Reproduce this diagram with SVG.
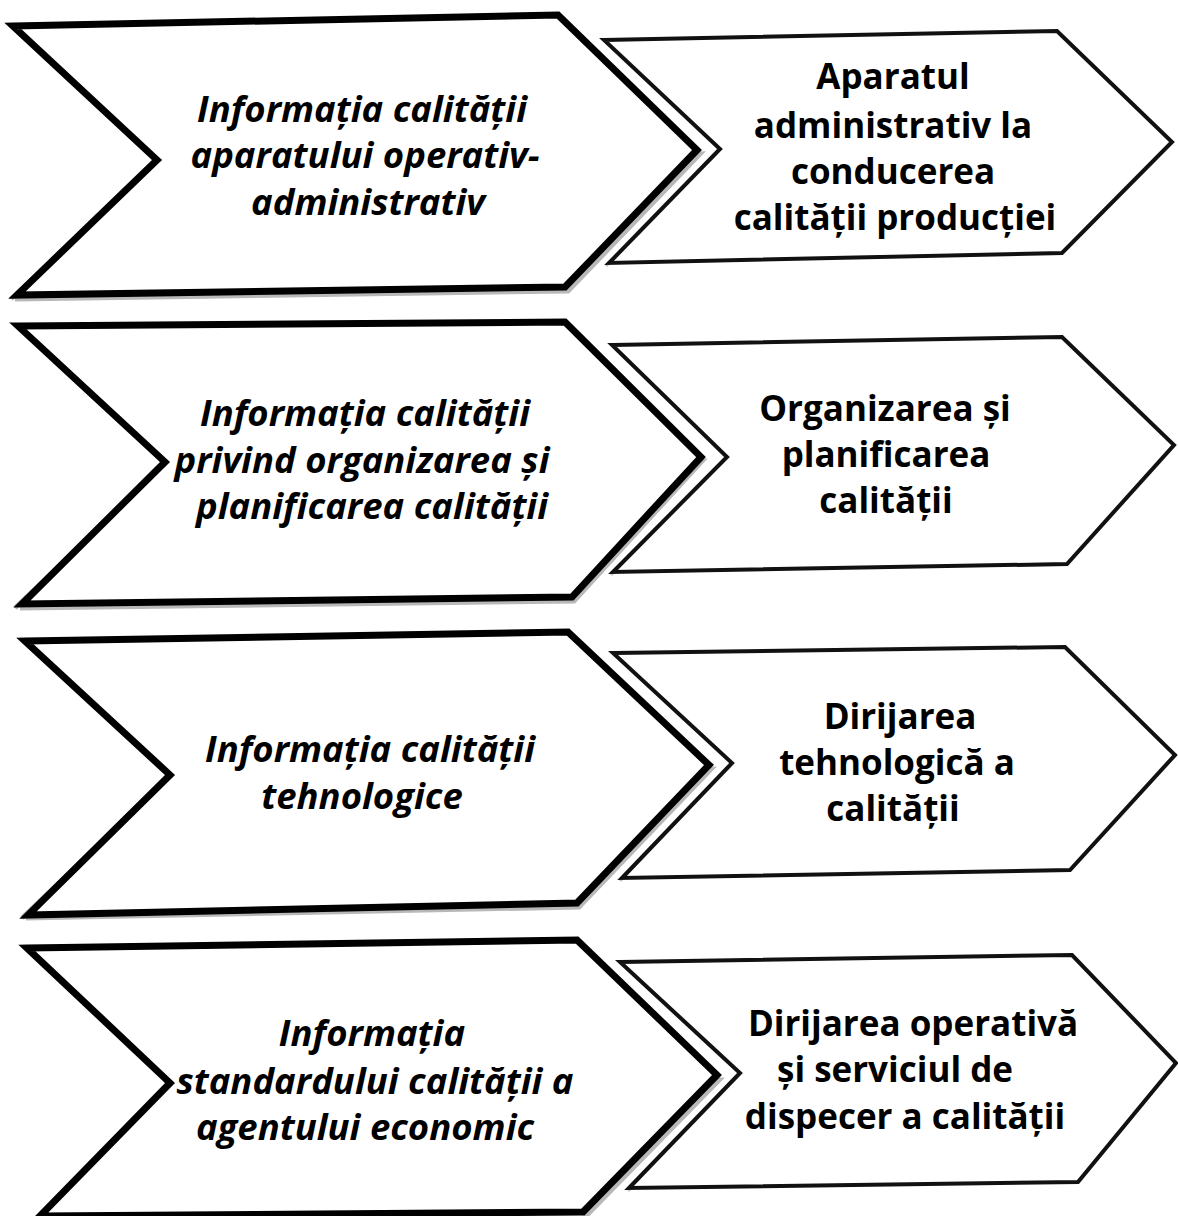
<svg xmlns="http://www.w3.org/2000/svg" width="1178" height="1216" viewBox="0 0 1178 1216">
<defs>
<style>
.lc{fill:#fff;stroke:#000;stroke-width:7;stroke-linejoin:miter}
.ls{fill:none;stroke:#b8b8b8;stroke-width:5}
.rc{fill:#fff;stroke:#111;stroke-width:4;stroke-linejoin:miter}
.rs{fill:none;stroke:#c8c8c8;stroke-width:3}
.lt{font-family:"Open Sans","Noto Sans",sans-serif;font-weight:bold;font-style:italic;font-size:36.5px;fill:#000;text-anchor:middle}
.rt{font-family:"Open Sans","Noto Sans",sans-serif;font-weight:bold;font-size:35px;fill:#000;text-anchor:middle}
</style>
</defs>
<rect width="1178" height="1216" fill="#fff"/>
<g id="connectors"></g>

<g id="row1-left">
<polyline class="ls" points="11,299 155,166 700,154 568,291 15,299"/>
<polygon class="lc" points="13,26 558,15 697,150 565,287 17,295 157,160"/>
<text class="lt" x="362" y="122">Informația calității</text>
<text class="lt" x="365" y="168">aparatului operativ-</text>
<text class="lt" x="368" y="215">administrativ</text>
</g>
<g id="row1-right">
<polyline class="rs" points="606,266 719,154"/>
<polygon class="rc" points="604,40 1057,31 1172,142 1062,253 609,263 720,149"/>
<text class="rt" x="893" y="89">Aparatul</text>
<text class="rt" x="893" y="138">administrativ la</text>
<text class="rt" x="893" y="184">conducerea</text>
<text class="rt" x="895" y="230">calității producției</text>
</g>

<g id="row2-left">
<polyline class="ls" points="15,608 163,468 702,461 574,601 20,608"/>
<polygon class="lc" points="18,326 565,322 701,457 572,597 22,604 165,462"/>
<text class="lt" x="365" y="426">Informația calității</text>
<text class="lt" x="362" y="473">privind organizarea și</text>
<text class="lt" x="372" y="519">planificarea calității</text>
</g>
<g id="row2-right">
<polyline class="rs" points="611,575 726,461"/>
<polygon class="rc" points="612,345 1062,337 1174,445 1067,564 613,572 727,457"/>
<text class="rt" x="885" y="421">Organizarea și</text>
<text class="rt" x="886" y="467">planificarea</text>
<text class="rt" x="886" y="513">calității</text>
</g>

<g id="row3-left">
<polyline class="ls" points="22,918 168,780 711,769 579,907 26,918"/>
<polygon class="lc" points="25,641 568,632 709,765 577,903 28,915 170,775"/>
<text class="lt" x="370" y="762">Informația calității</text>
<text class="lt" x="362" y="809">tehnologice</text>
</g>
<g id="row3-right">
<polyline class="rs" points="620,881 731,767"/>
<polygon class="rc" points="613,653 1065,647 1175,755 1070,870 622,878 732,763"/>
<text class="rt" x="900" y="729">Dirijarea</text>
<text class="rt" x="897" y="775">tehnologică a</text>
<text class="rt" x="893" y="821">calității</text>
</g>

<g id="row4-left">
<polyline class="ls" points="37,1218 168,1088 719,1080 585,1217"/>
<polygon class="lc" points="27,948 577,940 717,1075 583,1212 40,1216 170,1083"/>
<text class="lt" x="372" y="1046">Informația</text>
<text class="lt" x="375" y="1094">standardului calității a</text>
<text class="lt" x="365" y="1140">agentului economic</text>
</g>
<g id="row4-right">
<polyline class="rs" points="628,1191 738,1077"/>
<polygon class="rc" points="620,962 1072,955 1176,1063 1078,1182 629,1188 740,1073"/>
<text class="rt" x="913" y="1036">Dirijarea operativă</text>
<text class="rt" x="895" y="1082">și serviciul de</text>
<text class="rt" x="905" y="1129">dispecer a calității</text>
</g>
</svg>
